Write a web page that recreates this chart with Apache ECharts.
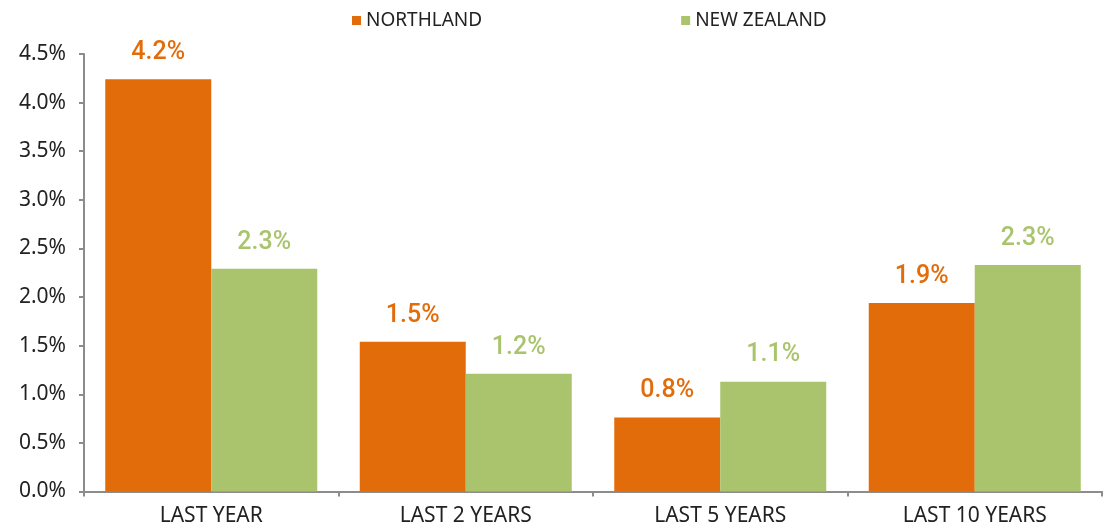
<!DOCTYPE html>
<html>
<head>
<meta charset="utf-8">
<script src="https://cdn.jsdelivr.net/npm/echarts@6/dist/echarts.min.js"></script>
<style>
  html, body { margin: 0; padding: 0; background: #fff; }
  #chart { width: 1109px; height: 531px; }
</style>
</head>
<body>
<div id="chart"></div>
<script>
const categories = ['LAST YEAR', 'LAST 2 YEARS', 'LAST 5 YEARS', 'LAST 10 YEARS']
const northland = [4.24, 1.54, 0.76, 1.94]
const newZealand = [2.29, 1.21, 1.13, 2.33]
const yTicks = { min: 0, max: 4.5, interval: 0.5 }

const colorList = ['#E36C0A', '#A9C46C']
const axisFont = '"Noto Sans", sans-serif'
const labelFont = 'Roboto, sans-serif'

function barSeries(name, data, color) {
  return {
    name: name,
    type: 'bar',
    data: data,
    barGap: '0%',
    barCategoryGap: '16.7%',
    itemStyle: { color: color },
    label: {
      show: true,
      position: 'top',
      distance: 14,
      color: color,
      fontFamily: labelFont,
      fontWeight: 500,
      fontSize: 25,
      formatter: p => p.value.toFixed(1) + '%'
    }
  }
}

const chart = echarts.init(document.getElementById('chart'))
chart.setOption({
  animation: false,
  legend: {
    top: 6,
    left: 347,
    itemWidth: 9,
    itemHeight: 9,
    itemGap: 199,
    icon: 'rect',
    textStyle: { fontFamily: axisFont, fontSize: 19, color: '#222' },
    data: ['NORTHLAND', 'NEW ZEALAND']
  },
  grid: {
    left: 84,
    right: 7,
    top: 54,
    bottom: 39.5,
    containLabel: false
  },
  xAxis: {
    type: 'category',
    data: categories,
    axisLine: { lineStyle: { color: '#8c8c8c', width: 2 } },
    axisTick: { show: true, length: 5, lineStyle: { color: '#8c8c8c', width: 2 } },
    axisLabel: { fontFamily: axisFont, fontSize: 21, color: '#222', margin: 14 }
  },
  yAxis: {
    type: 'value',
    min: yTicks.min,
    max: yTicks.max,
    interval: yTicks.interval,
    splitLine: { show: false },
    axisLine: { show: true, lineStyle: { color: '#8c8c8c', width: 2 } },
    axisTick: { show: true, length: 5, lineStyle: { color: '#8c8c8c', width: 2 } },
    axisLabel: {
      fontFamily: axisFont,
      fontSize: 21,
      color: '#222',
      margin: 18,
      formatter: v => v.toFixed(1) + '%'
    }
  },
  series: [
    barSeries('NORTHLAND', northland, colorList[0]),
    barSeries('NEW ZEALAND', newZealand, colorList[1])
  ]
})
</script>
</body>
</html>
